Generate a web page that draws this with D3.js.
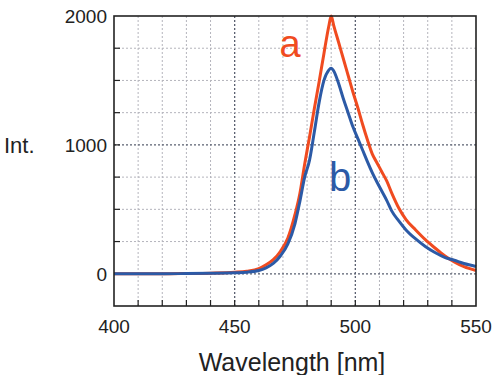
<!DOCTYPE html>
<html>
<head>
<meta charset="utf-8">
<script src="https://cdn.jsdelivr.net/npm/d3@7"></script>
<style>
  body { margin: 0; background: #fff; }
  text { font-family: "Liberation Sans", Arial, Helvetica, sans-serif; }
</style>
</head>
<body>
<div id="chart-area"></div>
<script>
// values
const wavelength = [400, 410, 420, 430, 440, 450, 455, 460, 463, 466, 469, 472, 475, 477, 479, 481, 483, 485, 487, 489, 490,
  491, 493, 495, 497, 499, 501, 503, 505, 507, 509, 511, 513, 515, 518, 521, 525, 529, 533, 537, 541, 545, 550]
const intA = [0, 0, 0, 2, 5, 12, 20, 40, 70, 110, 175, 275, 460, 620, 850, 1060, 1280, 1490, 1710, 1920, 2000,
  1930, 1800, 1670, 1540, 1410, 1290, 1160, 1040, 930, 860, 790, 720, 630, 510, 420, 340, 265, 200, 140, 92, 55, 25]
const intB = [0, 0, 0, 2, 4, 8, 12, 25, 46, 80, 140, 230, 390, 560, 750, 880, 1100, 1330, 1500, 1580, 1595,
  1575, 1480, 1360, 1250, 1140, 1050, 960, 870, 785, 710, 640, 570, 490, 410, 340, 270, 212, 165, 128, 105, 80, 57]

const xTicks = [400, 450, 500, 550]
const yTicks = [0, 1000, 2000]

const MARGIN = { LEFT: 114, RIGHT: 24, TOP: 16, BOTTOM: 69 }
const W = 500 - MARGIN.LEFT - MARGIN.RIGHT
const H = 375 - MARGIN.TOP - MARGIN.BOTTOM

const svg = d3.select("#chart-area").append("svg")
  .attr("width", 500)
  .attr("height", 375)

const g = svg.append("g")
  .attr("transform", `translate(${MARGIN.LEFT}, ${MARGIN.TOP})`)

const x = d3.scaleLinear().domain([400, 550]).range([0, W])
const y = d3.scaleLinear().domain([-250, 2000]).range([H, 0])

// grid
const xGrid = d3.range(410, 550, 10)
const yGrid = d3.range(-250, 2000, 250).filter(v => v > -250)

g.selectAll(".vgrid").data(xGrid).enter().append("line")
  .attr("x1", d => x(d)).attr("x2", d => x(d))
  .attr("y1", 0).attr("y2", H)
  .attr("stroke", d => d % 50 === 0 ? "#5a6070" : "#b4b4bc")
  .attr("stroke-width", d => d % 50 === 0 ? 1.3 : 1)
  .attr("stroke-dasharray", "2,2")

g.selectAll(".hgrid").data(yGrid).enter().append("line")
  .attr("x1", 0).attr("x2", W)
  .attr("y1", d => y(d)).attr("y2", d => y(d))
  .attr("stroke", d => d % 1000 === 0 ? "#5a6070" : "#b4b4bc")
  .attr("stroke-width", d => d % 1000 === 0 ? 1.3 : 1)
  .attr("stroke-dasharray", "2,2")

// inward ticks
g.selectAll(".xtick").data(xGrid).enter().append("line")
  .attr("x1", d => x(d)).attr("x2", d => x(d))
  .attr("y1", H).attr("y2", H - 6)
  .attr("stroke", "#222").attr("stroke-width", 1.2)

g.selectAll(".ytick").data(yGrid).enter().append("line")
  .attr("x1", 0).attr("x2", 6)
  .attr("y1", d => y(d)).attr("y2", d => y(d))
  .attr("stroke", "#222").attr("stroke-width", 1.2)

const line = d3.line()
  .x((d, i) => x(wavelength[i]))
  .y(d => y(d))
  .curve(d3.curveMonotoneX)

g.append("path")
  .datum(intA)
  .attr("fill", "none")
  .attr("stroke", "#f04b20")
  .attr("stroke-width", 3)
  .attr("stroke-linejoin", "round")
  .attr("d", line)

g.append("path")
  .datum(intB)
  .attr("fill", "none")
  .attr("stroke", "#2c5aa6")
  .attr("stroke-width", 3)
  .attr("stroke-linejoin", "round")
  .attr("d", line)

// frame
g.append("rect")
  .attr("width", W).attr("height", H)
  .attr("fill", "none")
  .attr("stroke", "#222")
  .attr("stroke-width", 1.6)

// tick labels
g.selectAll(".xlab").data(xTicks).enter().append("text")
  .attr("x", d => x(d))
  .attr("y", H + 27)
  .attr("text-anchor", "middle")
  .style("font-size", "19px")
  .attr("fill", "#222")
  .text(d => d)

g.selectAll(".ylab").data(yTicks).enter().append("text")
  .attr("x", -7)
  .attr("y", d => y(d) + 7)
  .attr("text-anchor", "end")
  .style("font-size", "19px")
  .attr("fill", "#222")
  .text(d => d)

// axis labels
svg.append("text")
  .attr("x", 4)
  .attr("y", 153)
  .style("font-size", "22px")
  .attr("fill", "#222")
  .text("Int.")

svg.append("text")
  .attr("x", MARGIN.LEFT + W / 2 - 3)
  .attr("y", 371)
  .attr("text-anchor", "middle")
  .style("font-size", "25px")
  .attr("fill", "#222")
  .text("Wavelength [nm]")

// series labels
g.append("text")
  .attr("x", 290 - MARGIN.LEFT)
  .attr("y", 57 - MARGIN.TOP)
  .attr("text-anchor", "middle")
  .style("font-size", "38px")
  .attr("fill", "#f04b20")
  .text("a")

g.append("text")
  .attr("x", 340 - MARGIN.LEFT)
  .attr("y", 191 - MARGIN.TOP)
  .attr("text-anchor", "middle")
  .style("font-size", "40px")
  .attr("fill", "#2c5aa6")
  .text("b")
</script>
</body>
</html>
